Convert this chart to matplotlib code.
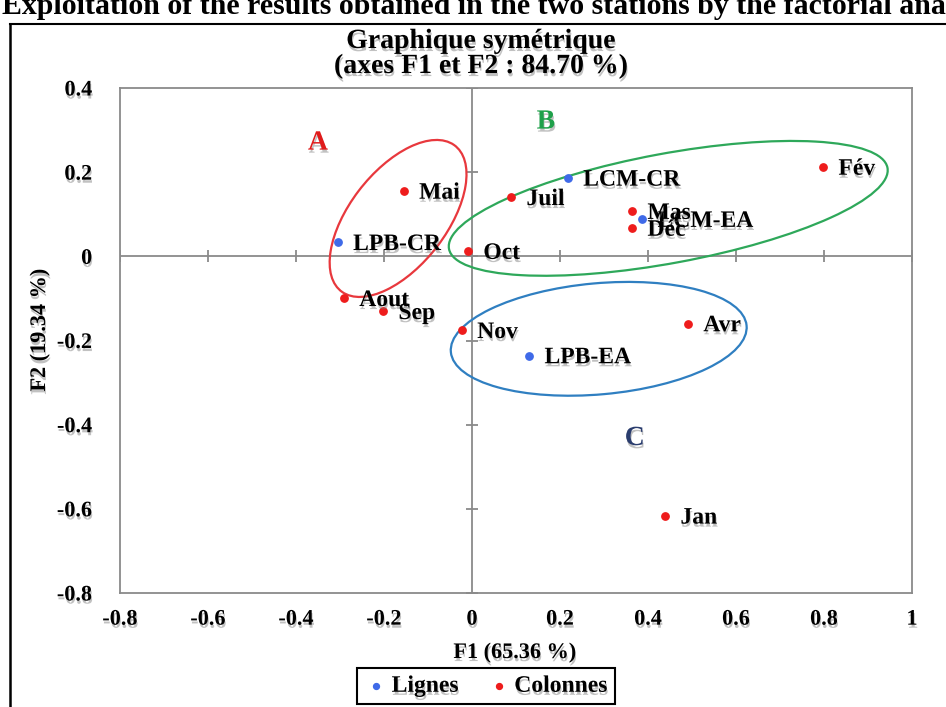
import matplotlib
matplotlib.use("Agg")
import matplotlib.pyplot as plt
from matplotlib.patches import Ellipse
import matplotlib.patheffects as pe
from matplotlib.lines import Line2D

# ---------------- data ----------------
row_labels = ["LPB-CR", "LCM-CR", "LCM-EA", "LPB-EA"]
row_x = [-0.305, 0.218, 0.387, 0.130]
row_y = [0.033, 0.186, 0.088, -0.236]

col_labels = ["Mai", "Oct", "Juil", "Fév", "Mas", "Déc", "Aout", "Sep", "Nov", "Avr", "Jan"]
col_x = [-0.155, -0.009, 0.089, 0.798, 0.364, 0.364, -0.291, -0.202, -0.023, 0.491, 0.439]
col_y = [0.155, 0.012, 0.140, 0.212, 0.107, 0.067, -0.100, -0.131, -0.176, -0.160, -0.617]

x_ticks = [-0.8, -0.6, -0.4, -0.2, 0, 0.2, 0.4, 0.6, 0.8, 1]
x_tick_labels = ["-0.8", "-0.6", "-0.4", "-0.2", "0", "0.2", "0.4", "0.6", "0.8", "1"]
y_ticks = [-0.8, -0.6, -0.4, -0.2, 0, 0.2, 0.4]
y_tick_labels = ["-0.8", "-0.6", "-0.4", "-0.2", "0", "0.2", "0.4"]

# groups: name, label position, ellipse centre, width, height, angle
group_names = ["A", "B", "C"]
group_label_x = [-0.35, 0.168, 0.370]
group_label_y = [0.269, 0.319, -0.433]
ell_cx = [-0.168, 0.446, 0.288]
ell_cy = [0.090, 0.114, -0.196]
ell_w = [0.432, 1.015, 0.675]
ell_h = [0.222, 0.26, 0.264]
ell_angle = [54, 11, 5.4]
group_colors = ["#e8383d", "#2ea85a", "#2f7fc1"]
group_text_colors = ["#e01b1b", "#1fa04a", "#2b3d6e"]

title = "Graphique symétrique\n(axes F1 et F2 : 84.70 %)"
top_text = "Exploitation of the results obtained in the two stations by the factorial analysis"
x_label = "F1 (65.36 %)"
y_label = "F2 (19.34 %)"

blue = "#3f6ae8"
red = "#ee1c1c"
grey = "#8a8a8a"

FONT = "Liberation Serif"
shadow = [pe.withSimplePatchShadow(offset=(0.6, -2.2), shadow_rgbFace="#777777", alpha=0.45)]

W, H = 946, 707
fig = plt.figure(figsize=(W / 100, H / 100), dpi=100)

# outer frame (left + top lines)
fig.add_artist(Line2D([10 / W, 10 / W], [0, 1 - 24 / H], transform=fig.transFigure,
                      color="black", lw=1.8))
fig.add_artist(Line2D([10 / W, 1.0], [1 - 24 / H, 1 - 24 / H], transform=fig.transFigure,
                      color="black", lw=1.5))

# top (clipped) caption
fig.text(2 / W, 1 - 14 / H, top_text, fontsize=21.5, fontweight="bold", family=FONT,
         ha="left", va="baseline")

ax = fig.add_axes([120 / W, 1 - 593 / H, 792 / W, 505 / H])
ax.set_xlim(-0.8, 1.0)
ax.set_ylim(-0.8, 0.4)
for s in ax.spines.values():
    s.set_color(grey)
    s.set_linewidth(1.3)

ax.set_xticks(x_ticks)
ax.set_xticklabels(x_tick_labels)
ax.set_yticks(y_ticks)
ax.set_yticklabels(y_tick_labels)
ax.tick_params(axis="both", length=0, labelsize=16)
ax.tick_params(axis="x", pad=12)
ax.tick_params(axis="y", pad=20)
for lab in ax.get_xticklabels() + ax.get_yticklabels():
    lab.set_fontfamily(FONT)
    lab.set_fontweight("bold")
    lab.set_path_effects(shadow)

# cross axes through origin with tick marks
ax.axhline(0, color=grey, lw=1.3, zorder=1)
ax.axvline(0, color=grey, lw=1.3, zorder=1)
ax.plot(x_ticks, [0] * len(x_ticks), ls="none", marker="|", ms=9, mew=1.3, color=grey, zorder=1)
ax.plot([0] * len(y_ticks), y_ticks, ls="none", marker="_", ms=9, mew=1.3, color=grey, zorder=1)

# ellipses
for i in range(len(group_names)):
    ax.add_patch(Ellipse((ell_cx[i], ell_cy[i]), ell_w[i], ell_h[i], angle=ell_angle[i],
                         fill=False, edgecolor=group_colors[i], lw=1.6, zorder=2))
    ax.text(group_label_x[i], group_label_y[i], group_names[i], color=group_text_colors[i],
            fontsize=20, fontweight="bold", family=FONT, ha="center", va="center",
            path_effects=shadow, zorder=4)

# points
sc_rows = ax.scatter(row_x, row_y, s=28, color=blue, zorder=3, label="Lignes")
sc_cols = ax.scatter(col_x, col_y, s=28, color=red, zorder=3, label="Colonnes")

for lab, x, y in zip(row_labels, row_x, row_y):
    ax.annotate(lab, (x, y), xytext=(11, -1.5), textcoords="offset points",
                fontsize=17, fontweight="bold", family=FONT, ha="left", va="center",
                path_effects=shadow, zorder=4)
for lab, x, y in zip(col_labels, col_x, col_y):
    ax.annotate(lab, (x, y), xytext=(11, -1.5), textcoords="offset points",
                fontsize=17, fontweight="bold", family=FONT, ha="left", va="center",
                path_effects=shadow, zorder=5)

# title and axis labels
fig.text(481 / W, 1 - 54 / H, title, fontsize=20, fontweight="bold", family=FONT,
         ha="center", va="center", linespacing=1.0, path_effects=shadow)
fig.text(515 / W, 1 - 653 / H, x_label, fontsize=16, fontweight="bold", family=FONT,
         ha="center", va="center", path_effects=shadow)
fig.text(40 / W, 1 - 330 / H, y_label, fontsize=16, fontweight="bold", family=FONT,
         ha="center", va="center", rotation=90, path_effects=shadow)

leg = fig.legend(handles=[sc_rows, sc_cols], loc="center",
                 bbox_to_anchor=(486 / W, 1 - 686 / H), ncol=2, frameon=True,
                 fancybox=False, edgecolor="black", framealpha=1,
                 prop={"family": FONT, "weight": "bold", "size": 17},
                 handletextpad=0.15, columnspacing=1.2, markerscale=0.8,
                 borderpad=0.3, handlelength=1.0, borderaxespad=0)
leg.get_frame().set_linewidth(1.5)
for t in leg.get_texts():
    t.set_path_effects(shadow)

fig.savefig("out.png", dpi=100)
